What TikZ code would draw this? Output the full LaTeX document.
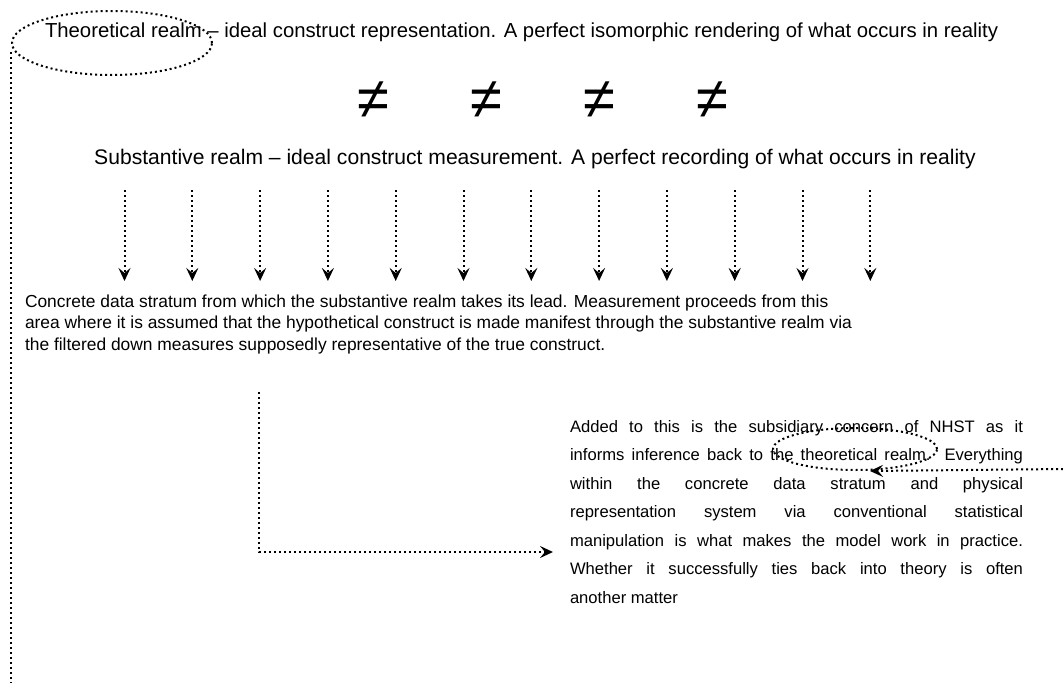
\documentclass[tikz,border=0pt]{standalone}
\usepackage{fontspec}
\setmainfont{Liberation Sans}
\usetikzlibrary{arrows.meta,shapes.geometric,calc}
\tikzset{
  dotline/.style={line width=2pt, dash pattern=on 2pt off 3pt},
  dotarrow/.style={dotline, -{Stealth[length=13pt,width=12pt,inset=5pt]}},
  txt/.style={inner sep=0pt, outer sep=0pt},
  neq/.style={inner sep=0pt, font=\fontsize{58}{58}\selectfont},
  ring/.style={draw, dotline, ellipse, inner sep=0pt}
}
\begin{document}
\begin{tikzpicture}[x=1pt,y=-1pt]
\useasboundingbox (0,0) rectangle (1063,683);
% title
\node[txt, anchor=base west, font={\fontsize{20.3}{24}\selectfont}] (title) at (45,37)
  {Theoretical realm – ideal construct representation. A perfect isomorphic rendering of what occurs in reality};
\node[ring, minimum width=200pt, minimum height=64pt] (ell1) at (112,43) {};
\coordinate (bottom) at (12,683);
\draw[dotline] ([yshift=-9pt]ell1.west) -- (ell1.west |- bottom);
% not-equal signs
\node[neq] (n1) at (373,100) {≠};
\node[neq] (n2) at (486,100) {≠};
\node[neq] (n3) at (599,100) {≠};
\node[neq] (n4) at (712,100) {≠};
% substantive
\node[txt, anchor=base, font={\fontsize{21.1}{25}\selectfont}] (subst) at (535,164)
  {Substantive realm – ideal construct measurement. A perfect recording of what occurs in reality};
% arrows
\foreach \i in {0,...,11}{
  \coordinate (a\i) at ({124.5+67.8*\i},190);
  \coordinate (b\i) at ({124.5+67.8*\i},281);
  \draw[dotarrow] (a\i) -- (b\i);
}
% concrete
\node[txt, anchor=north west, align=left, font={\fontsize{17.4}{21.5}\selectfont}] (concrete) at (25,294.5)
  {Concrete data stratum from which the substantive realm takes its lead. Measurement proceeds from this\\
   area where it is assumed that the hypothetical construct is made manifest through the substantive realm via\\
   the filtered down measures supposedly representative of the true construct.};
% L arrow
\coordinate (Ls) at (259,392);
\coordinate (Lc) at (259,552);
\coordinate (Le) at (553,552);
\draw[dotarrow] (Ls) -- (Lc) -- (Le);
% right paragraph
\node[txt, anchor=north west, align=left, font={\fontsize{16.6}{28.5}\selectfont}] (para) at (570,420)
  {\makebox[453pt][s]{Added to this is the subsidiary concern of NHST as it}\\
   \makebox[453pt][s]{informs inference back to the theoretical realm. Everything}\\
   \makebox[453pt][s]{within the concrete data stratum and physical}\\
   \makebox[453pt][s]{representation system via conventional statistical}\\
   \makebox[453pt][s]{manipulation is what makes the model work in practice.}\\
   \makebox[453pt][s]{Whether it successfully ties back into theory is often}\\
   another matter};
\node[ring, minimum width=164pt, minimum height=42pt] (ell2) at (855,449) {};
\coordinate (rstart) at (1063,469);
\draw[dotarrow] (rstart) -- ($(ell2.south)+(15,0)$);
\end{tikzpicture}
\end{document}
